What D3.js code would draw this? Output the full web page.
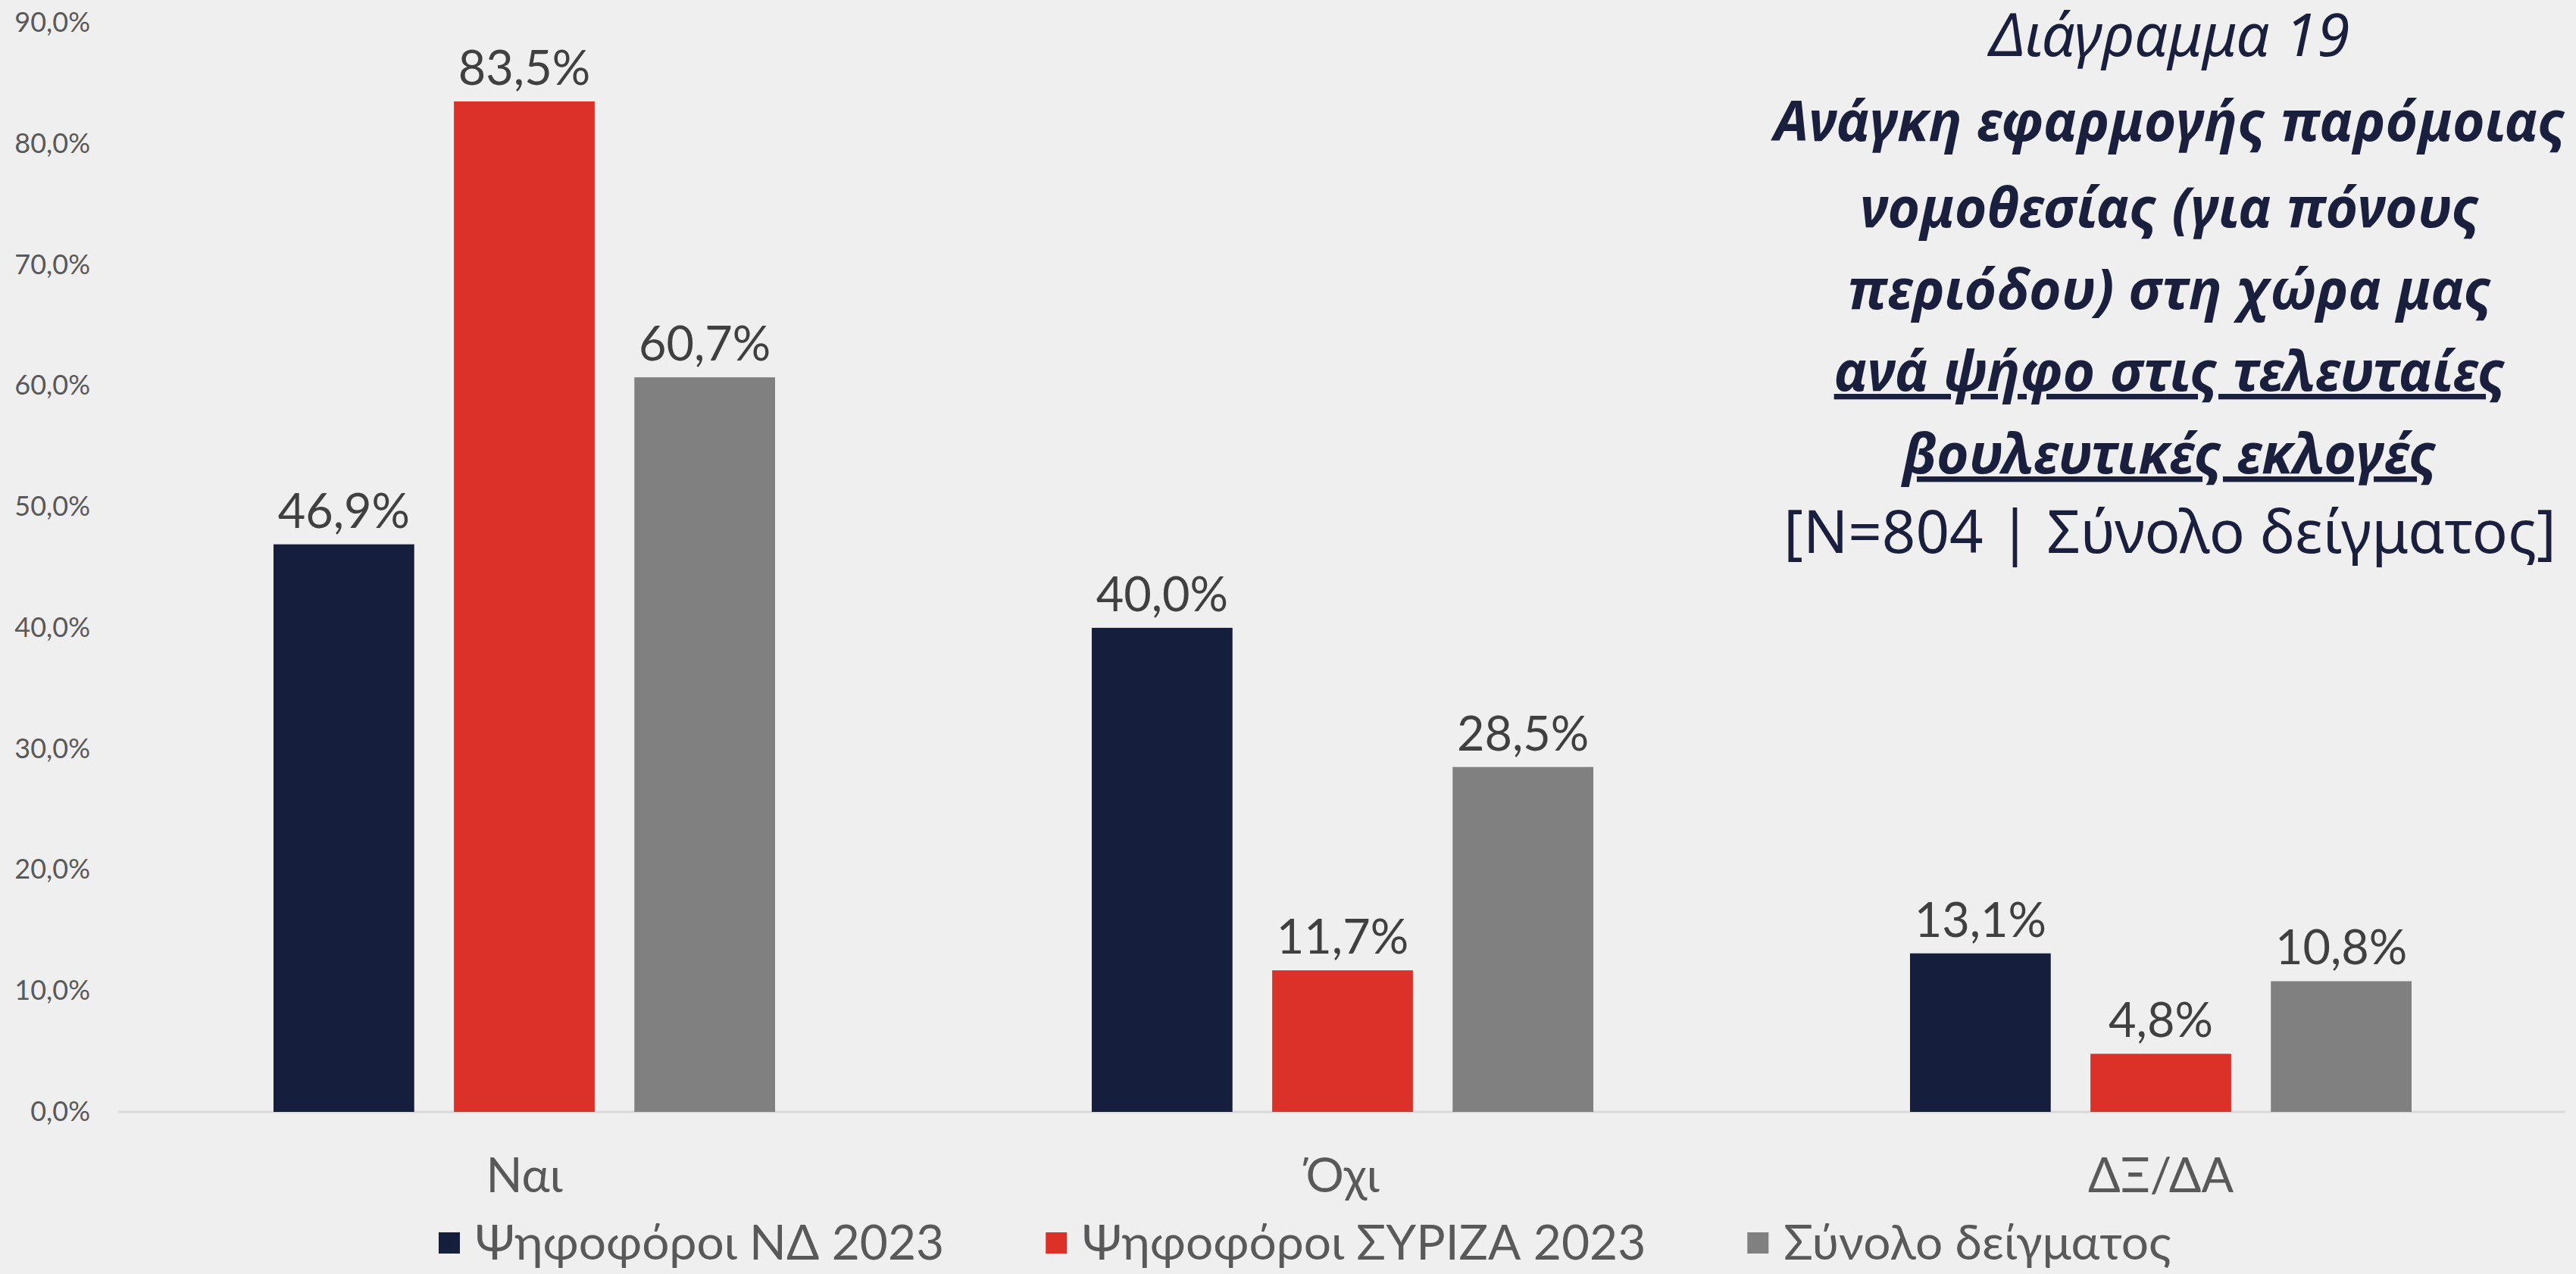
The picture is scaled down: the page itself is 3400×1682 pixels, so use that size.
<!DOCTYPE html>
<html>
<head>
<meta charset="utf-8">
<script src="https://cdn.jsdelivr.net/npm/d3@7"></script>
<style>
    html, body { margin: 0; padding: 0; background: #efefef; }
    svg { display: block; }
</style>
</head>
<body>
<div id="chart"></div>
<script>
// chart values
var categories = ["Ναι", "Όχι", "ΔΞ/ΔΑ"];
var seriesNames = ["Ψηφοφόροι ΝΔ 2023", "Ψηφοφόροι ΣΥΡΙΖΑ 2023", "Σύνολο δείγματος"];
var ndValues = [46.9, 40.0, 13.1];
var syrizaValues = [83.5, 11.7, 4.8];
var totalValues = [60.7, 28.5, 10.8];
var yTicks = [0, 10, 20, 30, 40, 50, 60, 70, 80, 90];
var titleLines = [
    { text: "Διάγραμμα 19", weight: "normal", style: "italic", under: false },
    { text: "Ανάγκη εφαρμογής παρόμοιας", weight: "bold", style: "italic", under: false },
    { text: "νομοθεσίας (για πόνους", weight: "bold", style: "italic", under: false },
    { text: "περιόδου) στη χώρα μας", weight: "bold", style: "italic", under: false },
    { text: "ανά ψήφο στις τελευταίες", weight: "bold", style: "italic", under: true },
    { text: "βουλευτικές εκλογές", weight: "bold", style: "italic", under: true },
    { text: "[N=804 | Σύνολο δείγματος]", weight: "normal", style: "normal", under: false }
];
var colors = ["#161e3e", "#dc3129", "#808080"];

var seriesValues = [ndValues, syrizaValues, totalValues];

drawChart();

function drawChart() {
    var width = 3400, height = 1682;
    var margin = { top: 30, right: 8, bottom: 214, left: 152 };

    var svg = d3.select("#chart").append("svg")
        .attr("width", width)
        .attr("height", height)
        .style("font-family", "Lato, 'Noto Sans', sans-serif");

    svg.append("rect").attr("width", width).attr("height", height).attr("fill", "#efefef");

    var x0 = d3.scaleBand()
        .domain(categories)
        .range([margin.left, width - margin.right])
        .paddingInner(0)
        .paddingOuter(0);

    var x1 = d3.scaleBand()
        .domain(d3.range(seriesNames.length))
        .range([0, x0.bandwidth() * 0.613])
        .paddingInner(0.22);

    var y = d3.scaleLinear()
        .domain([0, 90])
        .range([height - margin.bottom, margin.top]);

    var locale = d3.formatLocale({ decimal: ",", thousands: ".", grouping: [3], currency: ["", "€"] });
    var fmt = locale.format(".1f");

    // y axis (labels only)
    var yAxis = svg.append("g")
        .attr("transform", "translate(119,0)")
        .call(d3.axisLeft(y).tickValues(yTicks).tickSize(0).tickPadding(0)
            .tickFormat(function (d) { return fmt(d) + "%"; }));
    yAxis.select(".domain").remove();
    yAxis.selectAll("text")
        .attr("font-size", 36)
        .attr("font-family", "Lato, sans-serif")
        .attr("fill", "#595959");

    // baseline
    svg.append("line")
        .attr("x1", x0.range()[0] + 4)
        .attr("x2", x0.range()[1] - 6)
        .attr("y1", y(0))
        .attr("y2", y(0))
        .attr("stroke", "#d9d9d9")
        .attr("stroke-width", 3);

    // bars
    var groups = svg.selectAll(".group")
        .data(categories)
        .enter().append("g")
        .attr("class", "group")
        .attr("transform", function (d) {
            return "translate(" + (x0(d) + (x0.bandwidth() - x1.range()[1]) / 2) + ",0)";
        });

    groups.selectAll("rect")
        .data(function (d, i) { return seriesValues.map(function (s, j) { return { s: j, v: s[i] }; }); })
        .enter().append("rect")
        .attr("x", function (d) { return x1(d.s); })
        .attr("width", x1.bandwidth())
        .attr("y", function (d) { return y(d.v); })
        .attr("height", function (d) { return y(0) - y(d.v); })
        .attr("fill", function (d) { return colors[d.s]; });

    groups.selectAll(".val")
        .data(function (d, i) { return seriesValues.map(function (s, j) { return { s: j, v: s[i] }; }); })
        .enter().append("text")
        .attr("class", "val")
        .attr("x", function (d) { return x1(d.s) + x1.bandwidth() / 2; })
        .attr("y", function (d) { return y(d.v) - 22; })
        .attr("text-anchor", "middle")
        .attr("font-size", 63)
        .attr("fill", "#404040")
        .text(function (d) { return fmt(d.v) + "%"; });

    // x axis labels
    var xAxis = svg.append("g")
        .attr("transform", "translate(0," + y(0) + ")")
        .call(d3.axisBottom(x0).tickSize(0).tickPadding(0));
    xAxis.select(".domain").remove();
    xAxis.selectAll("text")
        .attr("dy", null)
        .attr("y", 106)
        .attr("font-size", 63)
        .attr("font-family", "Lato, sans-serif")
        .attr("fill", "#595959");

    // legend
    var legend = svg.append("g").attr("transform", "translate(0,1641)");
    var lx = 579;
    seriesNames.forEach(function (name, i) {
        legend.append("rect")
            .attr("x", lx)
            .attr("y", -14)
            .attr("width", 28)
            .attr("height", 28)
            .attr("fill", colors[i]);
        var t = legend.append("text")
            .attr("x", lx + 48)
            .attr("y", 22)
            .attr("font-size", 64)
            .attr("fill", "#595959")
            .text(name);
        lx = lx + 48 + t.node().getComputedTextLength() + 134;
    });

    // title block
    var title = svg.append("g")
        .attr("font-family", "'Noto Sans', 'Open Sans', sans-serif")
        .attr("fill", "#1a1f3d");
    var lineY = [74, 186, 300, 408, 516, 625, 730];
    title.selectAll("text")
        .data(titleLines)
        .enter().append("text")
        .attr("x", 2864)
        .attr("y", function (d, i) { return lineY[i]; })
        .attr("text-anchor", "middle")
        .attr("font-size", function (d) { return d.weight == "bold" ? 73 : 78; })
        .attr("font-weight", function (d) { return d.weight; })
        .attr("font-style", function (d) { return d.style; })
        .attr("text-decoration", function (d) { return d.under ? "underline" : null; })
        .text(function (d) { return d.text; });
}
</script>
</body>
</html>
